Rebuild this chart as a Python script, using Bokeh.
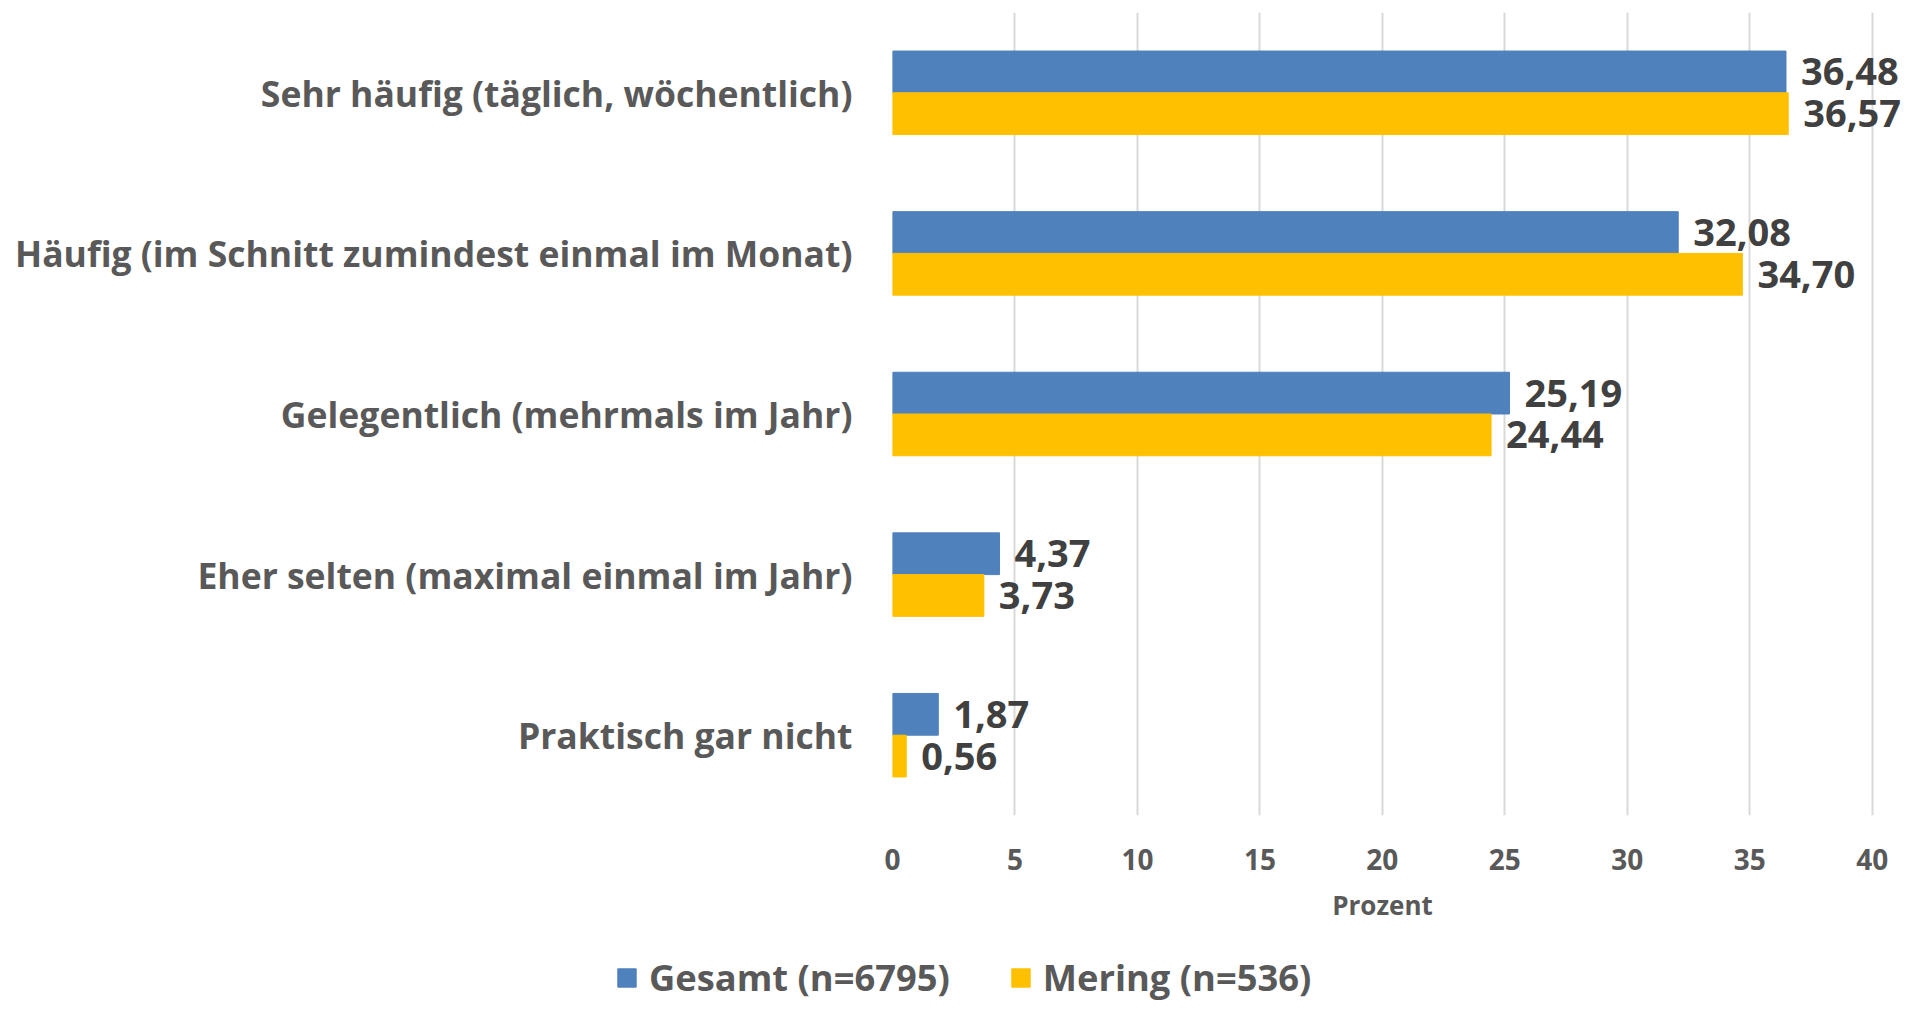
from bokeh.plotting import figure
from bokeh.layouts import column
from bokeh.models import (ColumnDataSource, FactorRange, Range1d, FixedTicker, Legend,
                          LegendItem, Label)
from bokeh.transform import dodge
from bokeh.core.properties import value
from bokeh.embed import file_html
from bokeh.resources import INLINE

categories = [
    "Sehr häufig (täglich, wöchentlich)",
    "Häufig (im Schnitt zumindest einmal im Monat)",
    "Gelegentlich (mehrmals im Jahr)",
    "Eher selten (maximal einmal im Jahr)",
    "Praktisch gar nicht",
]
gesamt = [36.48, 32.08, 25.19, 4.37, 1.87]
mering = [36.57, 34.70, 24.44, 3.73, 0.56]
series_names = ["Gesamt (n=6795)", "Mering (n=536)"]
x_ticks = [0, 5, 10, 15, 20, 25, 30, 35, 40]
x_title = "Prozent"

FONT = "Open Sans"
BLUE = "#4F81BD"
YELLOW = "#FFC000"
GREY = "#595959"

def fmt(v):
    return f"{v:.2f}".replace(".", ",")

src = ColumnDataSource(dict(
    cat=categories,
    gesamt=gesamt,
    mering=mering,
    gl=[fmt(v) for v in gesamt],
    ml=[fmt(v) for v in mering],
))

W = 1913
H_MAIN = 884
H_LEG = 118
FRAME_LEFT = 892
p = figure(
    width=W, height=H_MAIN,
    y_range=FactorRange(factors=list(reversed(categories))),
    x_range=Range1d(0, 41.4),
    output_backend="svg", toolbar_location=None,
    min_border_left=FRAME_LEFT, min_border_right=7, min_border_top=12, min_border_bottom=69,
)
p.frame_align = False
p.outline_line_color = None
p.background_fill_color = "white"
p.border_fill_color = "white"

r1 = p.hbar(y=dodge("cat", 0.13, range=p.y_range), left=0, right="gesamt", height=0.26,
            source=src, fill_color=BLUE, line_color=BLUE)
r2 = p.hbar(y=dodge("cat", -0.13, range=p.y_range), left=0, right="mering", height=0.26,
            source=src, fill_color=YELLOW, line_color=YELLOW)

for col, lab, off in (("gesamt", "gl", 0.13), ("mering", "ml", -0.13)):
    p.text(x=col, y=dodge("cat", off, range=p.y_range), text=lab, source=src,
           x_offset=15, text_align="left", text_baseline="middle",
           text_font=value(FONT), text_font_style="bold", text_font_size="38px",
           text_color="#404040")

p.ygrid.grid_line_color = None
p.xgrid.ticker = FixedTicker(ticks=x_ticks)
p.xgrid.grid_line_color = "#D9D9D9"
p.xgrid.grid_line_width = 2

xa = p.xaxis[0]
xa.ticker = FixedTicker(ticks=x_ticks)
xa.axis_line_color = None
xa.major_tick_line_color = None
xa.minor_tick_line_color = None
xa.major_tick_out = 0
xa.major_label_standoff = 33
xa.major_label_text_font = FONT
xa.major_label_text_font_style = "bold"
xa.major_label_text_font_size = "28px"
xa.major_label_text_color = GREY

ya = p.yaxis[0]
ya.axis_line_color = None
ya.major_tick_line_color = None
ya.minor_tick_line_color = None
ya.major_tick_out = 0
ya.major_label_standoff = 40
ya.major_label_text_font = FONT
ya.major_label_text_font_style = "bold"
ya.major_label_text_font_size = "35.5px"
ya.major_label_text_color = GREY

# strip below the chart: axis title and legend
lp = figure(
    width=W, height=H_LEG, x_range=Range1d(0, 1), y_range=Range1d(0, 1),
    output_backend="svg", toolbar_location=None,
    min_border_left=0, min_border_right=0, min_border_top=0, min_border_bottom=0,
)
lp.frame_align = False
lp.outline_line_color = None
lp.axis.visible = False
lp.grid.grid_line_color = None
lr1 = lp.hbar(y=[-10], right=[-10], height=0.5, fill_color=BLUE, line_color=BLUE)
lr2 = lp.hbar(y=[-10], right=[-10], height=0.5, fill_color=YELLOW, line_color=YELLOW)

# axis title centred under the 0..40 span of the value axis
title_x = FRAME_LEFT + 24.5 * (x_ticks[0] + x_ticks[-1]) / 2
lp.add_layout(Label(x=title_x, y=H_LEG - 20, x_units="screen", y_units="screen",
                    text=x_title, text_align="center", text_baseline="middle",
                    text_font=FONT, text_font_style="bold", text_font_size="26px",
                    text_color=GREY))

legend = Legend(
    items=[LegendItem(label=series_names[0], renderers=[lr1]),
           LegendItem(label=series_names[1], renderers=[lr2])],
    orientation="horizontal",
    location=(615, 0),
    glyph_width=23, glyph_height=23,
    label_standoff=11, spacing=59, padding=0, margin=0,
    label_text_font=FONT, label_text_font_style="bold", label_text_font_size="36.3px",
    label_text_color=GREY,
    border_line_color=None, background_fill_alpha=0,
)
lp.add_layout(legend, "center")

layout = column(p, lp, spacing=0)
open("out.html", "w").write(file_html(layout, INLINE))
